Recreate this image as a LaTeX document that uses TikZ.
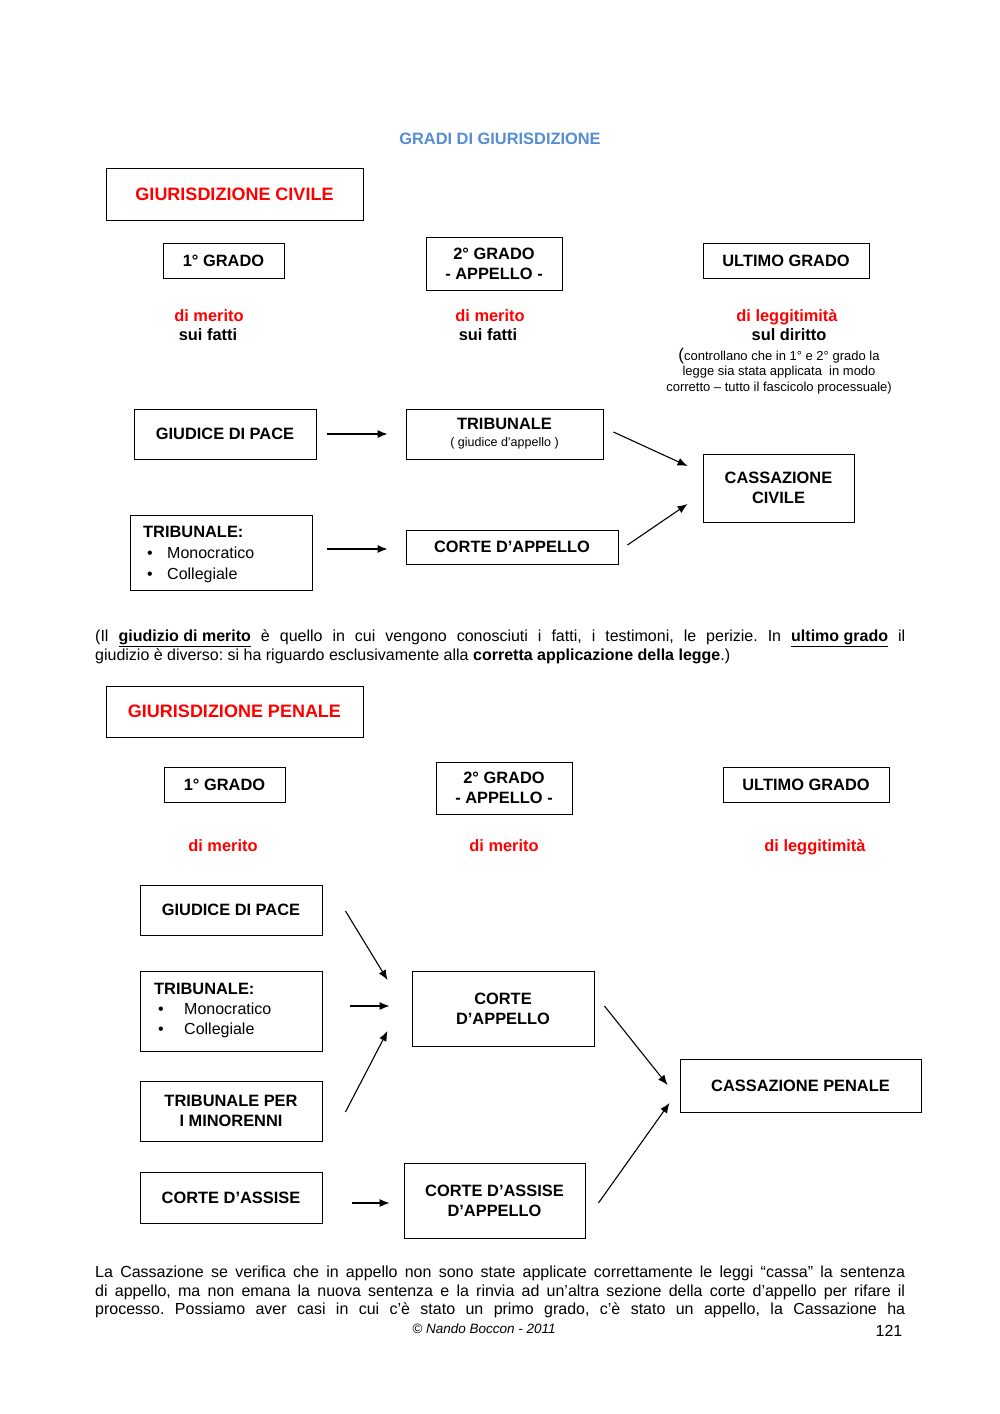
\documentclass[tikz,border=0pt]{standalone}
\usepackage{fontspec}
\setmainfont{Liberation Sans}
\usetikzlibrary{arrows.meta}
\definecolor{titleblue}{RGB}{84,141,212}
\definecolor{myred}{RGB}{255,0,0}
\newcommand\lblfont{\fontsize{16.4}{20}\selectfont\bfseries}
\newcommand\bodyfont{\fontsize{16}{19}\selectfont}
\newcommand\smallfont{\fontsize{13}{15.5}\selectfont}
\frenchspacing
\begin{document}
\begin{tikzpicture}[x=1pt,y=-1pt,
  box/.style={draw, line width=0.9pt, inner sep=0pt, align=center, font=\lblfont},
  headbox/.style={box, text=myred, font=\fontsize{18}{20}\selectfont\bfseries},
  txt/.style={inner sep=0pt, anchor=base},
  ltxt/.style={inner sep=0pt, anchor=base west},
  lbl/.style={txt, font=\lblfont},
  redlbl/.style={txt, font=\lblfont, text=myred},
  arr/.style={-{Latex[length=10pt,width=8pt]}, line width=1.1pt}]
\useasboundingbox[fill=white] (0,0) rectangle (1000,1414);

% title
\node[txt, font=\lblfont, text=titleblue] (title) at (500,144) {GRADI DI GIURISDIZIONE};

% ===== CIVILE =====
\node[headbox, minimum width=257, minimum height=52] (gc) at (234.5,194) {GIURISDIZIONE CIVILE};
\node[box, minimum width=121, minimum height=35] (c1) at (223.5,260.5) {1° GRADO};
\node[box, minimum width=136, minimum height=53] (c2) at (494,263.5) {2° GRADO\\- APPELLO -};
\node[box, minimum width=166, minimum height=35] (cu) at (786,260.5) {ULTIMO GRADO};

\node[redlbl] (cm1) at (209,321) {di merito};
\node[lbl] (cf1) at (208,340) {sui fatti};
\node[redlbl] (cm2) at (490,321) {di merito};
\node[lbl] (cf2) at (488,340) {sui fatti};
\node[redlbl] (cl) at (787,321) {di leggitimità};
\node[lbl] (cd) at (789,340) {sul diritto};
\node[txt, font=\smallfont, align=center] (note) at (779,391)
  {{\fontsize{17}{15}\selectfont(}controllano che in 1° e 2° grado la\\
   legge sia stata applicata\ \ in modo\\
   corretto – tutto il fascicolo processuale)};

\node[box, minimum width=182, minimum height=50] (cgp) at (225,434) {GIUDICE DI PACE};
\node[box, minimum width=197, minimum height=50] (ctr) at (504.5,434)
  {TRIBUNALE\\[-3pt]{\fontsize{12.5}{14}\selectfont\mdseries ( giudice d’appello )}};
\node[box, minimum width=151, minimum height=68] (ccc) at (778.5,488) {CASSAZIONE\\CIVILE};
\node[box, minimum width=182, minimum height=75] (ctb) at (221,552.5) {};
\node[ltxt, font=\lblfont] (ctbt) at (143,537) {TRIBUNALE:};
\node[ltxt, font=\bodyfont] (ctbb1) at (147,558) {\textbullet};
\node[ltxt, font=\bodyfont] (ctbm) at (167,558) {Monocratico};
\node[ltxt, font=\bodyfont] (ctbb2) at (147,579) {\textbullet};
\node[ltxt, font=\bodyfont] (ctbc) at (167,579) {Collegiale};
\node[box, minimum width=212, minimum height=34] (cca) at (512,547) {CORTE D’APPELLO};

\draw[arr] ([xshift=11]cgp.east) -- ([xshift=-18]ctr.west);
\draw[arr] ([shift={(10,-2)}]ctr.east) -- ([shift={(-15,-22)}]ccc.west);
\draw[arr] ([shift={(15,-3.5)}]ctb.east) -- ([shift={(-18,2)}]cca.west);
\draw[arr] ([shift={(9,-2)}]cca.east) -- ([shift={(-15,16)}]ccc.west);

% middle paragraph
\node[ltxt, font=\bodyfont] (p1) at (95,641)
  {\makebox[810pt][s]{(Il \underline{\textbf{giudizio di merito}} è quello in cui vengono conosciuti i fatti, i testimoni, le perizie. In \underline{\textbf{ultimo grado}} il}};
\node[ltxt, font=\bodyfont] (p2) at (95,660)
  {giudizio è diverso: si ha riguardo esclusivamente alla \textbf{corretta applicazione della legge}.)};

% ===== PENALE =====
\node[headbox, minimum width=257, minimum height=51] (gp) at (234.5,711.5) {GIURISDIZIONE PENALE};
\node[box, minimum width=121, minimum height=35] (p1g) at (224.5,784.5) {1° GRADO};
\node[box, minimum width=136, minimum height=52] (p2g) at (504,788) {2° GRADO\\- APPELLO -};
\node[box, minimum width=166, minimum height=35] (pug) at (806,784.5) {ULTIMO GRADO};

\node[redlbl] (pm1) at (223,851) {di merito};
\node[redlbl] (pm2) at (504,851) {di merito};
\node[redlbl] (pl) at (815,851) {di leggitimità};

\node[box, minimum width=182, minimum height=50] (pgp) at (231,910) {GIUDICE DI PACE};
\node[box, minimum width=182, minimum height=80] (ptb) at (231,1011) {};
\node[ltxt, font=\lblfont] (ptbt) at (154,994) {TRIBUNALE:};
\node[ltxt, font=\bodyfont] (ptbb1) at (158,1014) {\textbullet};
\node[ltxt, font=\bodyfont] (ptbm) at (184,1014) {Monocratico};
\node[ltxt, font=\bodyfont] (ptbb2) at (158,1034) {\textbullet};
\node[ltxt, font=\bodyfont] (ptbc) at (184,1034) {Collegiale};
\node[box, minimum width=182, minimum height=60] (ptm) at (231,1111) {TRIBUNALE PER\\I MINORENNI};
\node[box, minimum width=182, minimum height=51] (pca) at (231,1197.5) {CORTE D’ASSISE};
\node[box, minimum width=182, minimum height=75] (pcap) at (503,1008.5) {CORTE\\D’APPELLO};
\node[box, minimum width=181, minimum height=75] (pcaa) at (494.5,1200.5) {CORTE D’ASSISE\\D’APPELLO};
\node[box, minimum width=241, minimum height=53] (pcp) at (800.5,1085.5) {CASSAZIONE PENALE};

\draw[arr] ([shift={(23,1)}]pgp.east) -- ([shift={(-24,-28.5)}]pcap.west);
\draw[arr] ([shift={(28,-5)}]ptb.east) -- ([shift={(-22,-2.5)}]pcap.west);
\draw[arr] ([shift={(23,1)}]ptm.east) -- ([shift={(-24,22.5)}]pcap.west);
\draw[arr] ([shift={(30,5.5)}]pca.east) -- ([shift={(-14,2.5)}]pcaa.west);
\draw[arr] ([shift={(10,-2.5)}]pcap.east) -- ([shift={(-12,-0.5)}]pcp.west);
\draw[arr] ([shift={(13,2.5)}]pcaa.east) -- ([shift={(-10,17.5)}]pcp.west);

% bottom paragraph
\node[ltxt, font=\bodyfont] (q1) at (95,1277)
  {\makebox[810pt][s]{La Cassazione se verifica che in appello non sono state applicate correttamente le leggi “cassa” la sentenza}};
\node[ltxt, font=\bodyfont] (q2) at (95,1296)
  {\makebox[810pt][s]{di appello, ma non emana la nuova sentenza e la rinvia ad un’altra sezione della corte d’appello per rifare il}};
\node[ltxt, font=\bodyfont] (q3) at (95,1314)
  {\makebox[810pt][s]{processo. Possiamo aver casi in cui c’è stato un primo grado, c’è stato un appello, la Cassazione ha}};
\node[txt, font=\fontsize{13.5}{15}\selectfont\itshape] (foot) at (484,1333) {© Nando Boccon - 2011};
\node[txt, font=\bodyfont] (pg) at (889,1336) {121};
\end{tikzpicture}
\end{document}
